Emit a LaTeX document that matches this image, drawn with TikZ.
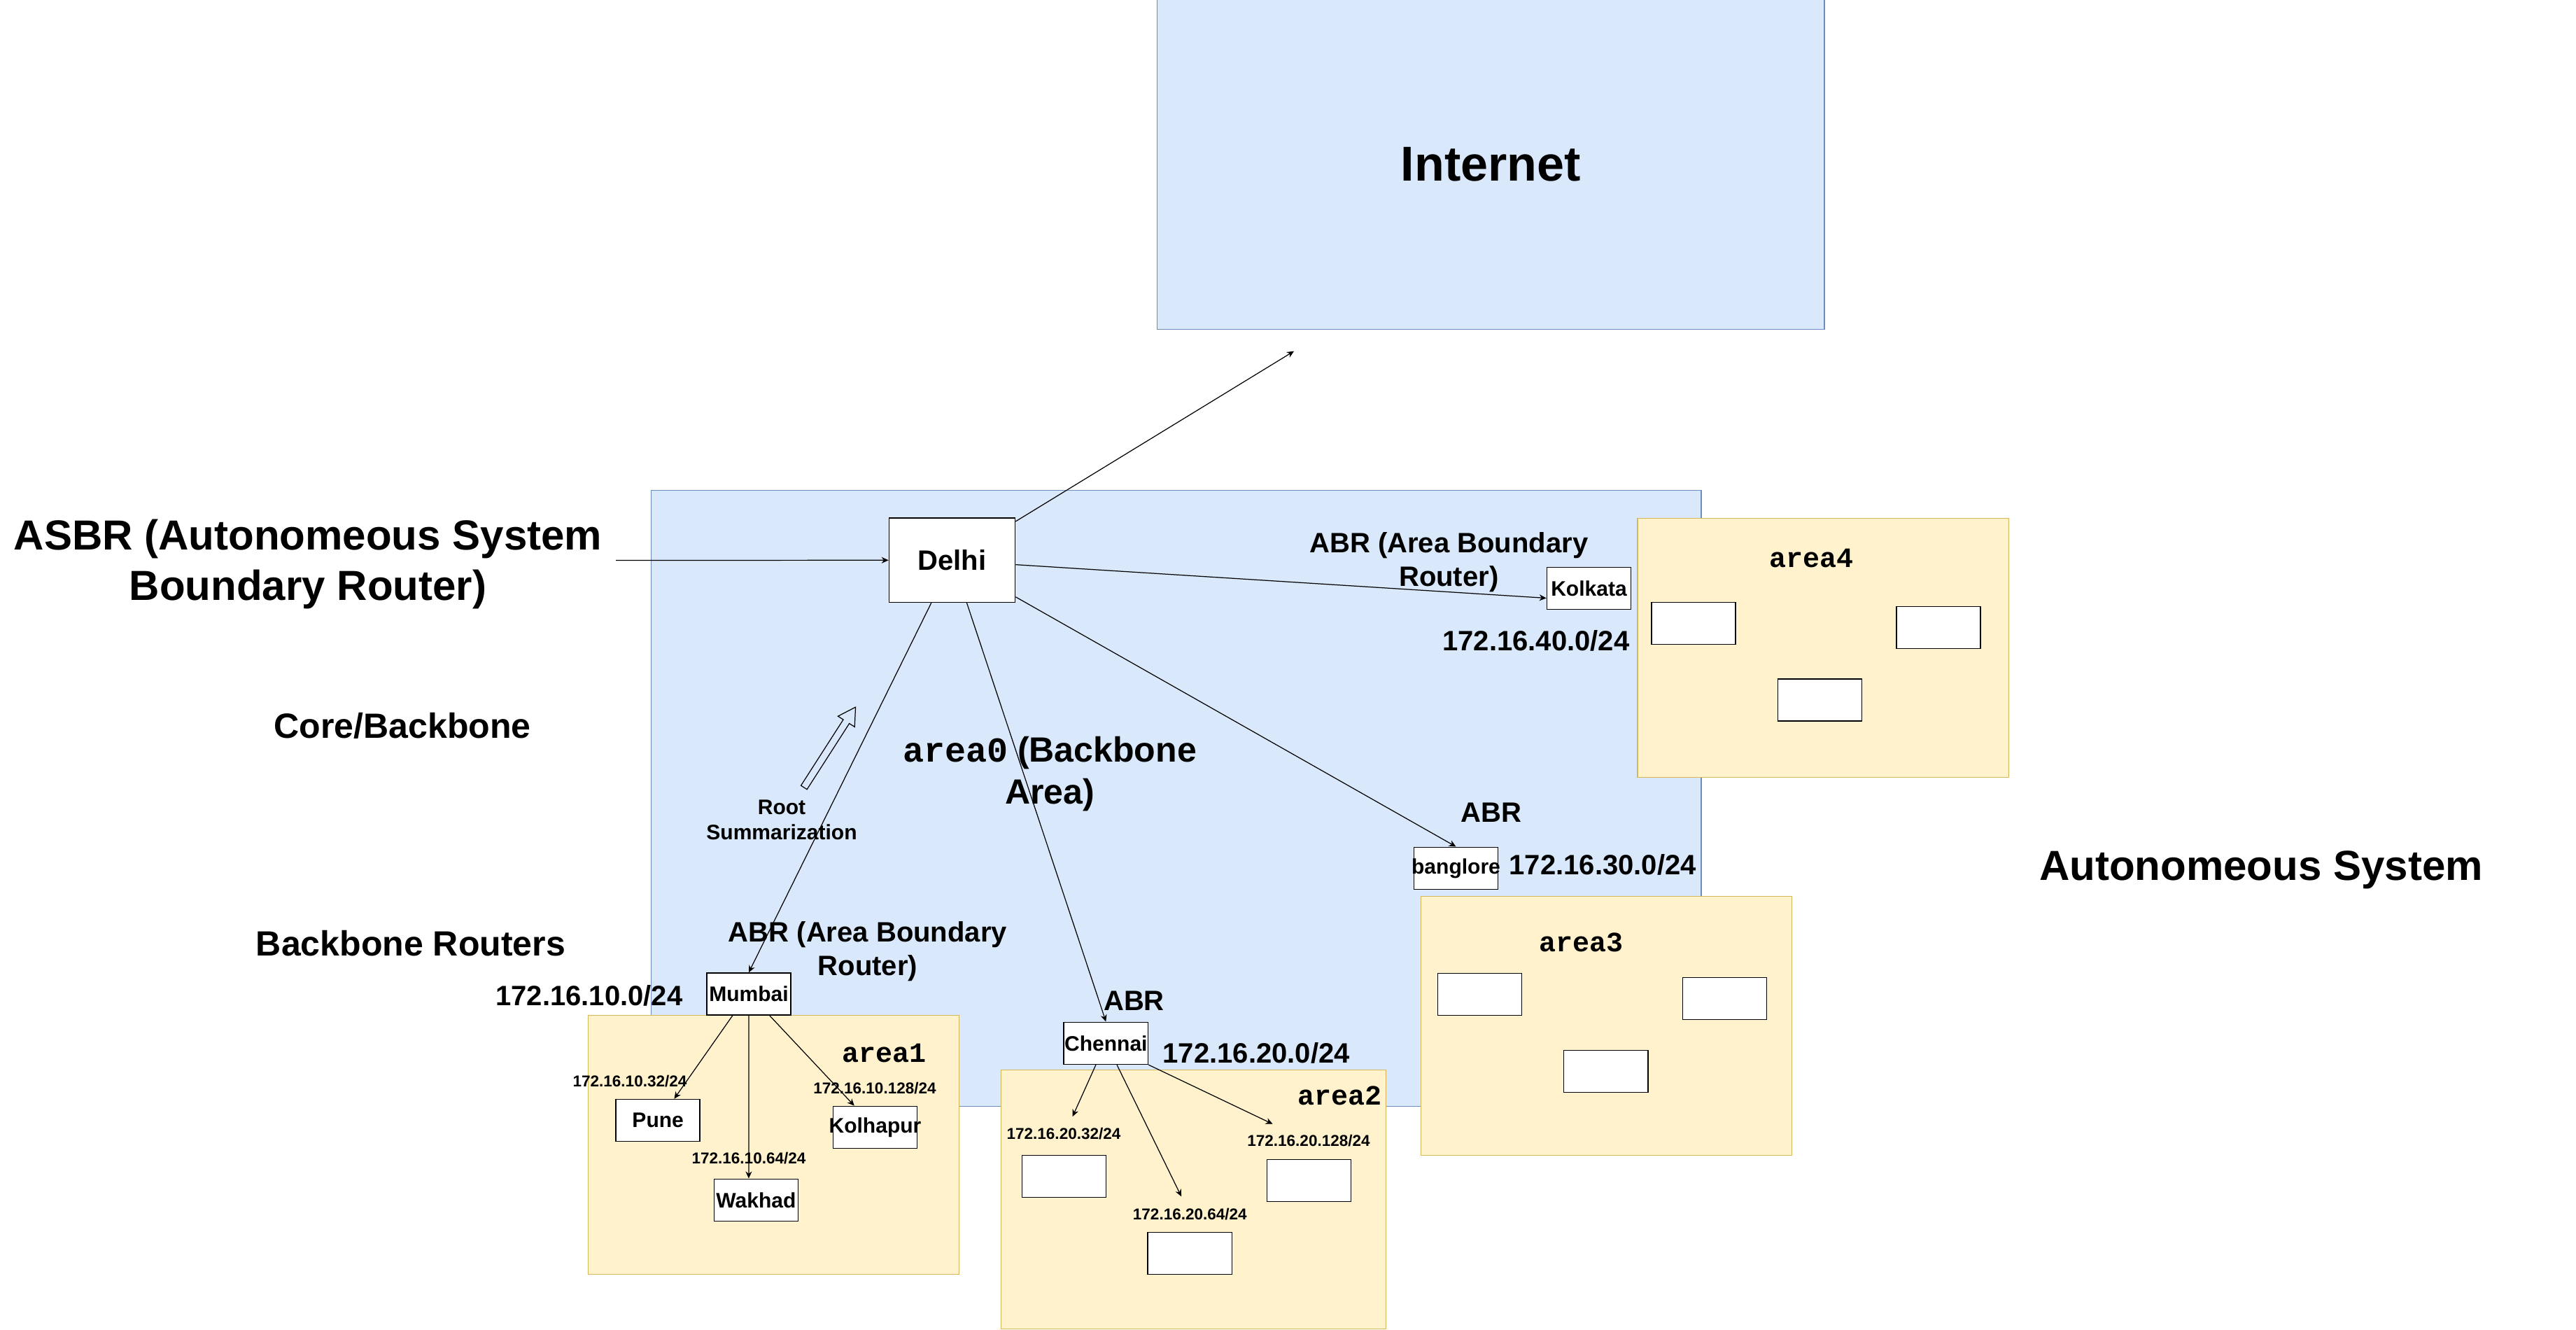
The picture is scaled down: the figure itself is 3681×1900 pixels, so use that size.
\documentclass[tikz,border=0pt]{standalone}
\usepackage{fontspec}
\setmainfont{Liberation Sans}
\setmonofont{Liberation Mono}
\definecolor{myblue}{HTML}{DAE8FC}
\definecolor{mybluedraw}{HTML}{6C8EBF}
\definecolor{myyellow}{HTML}{FFF2CC}
\definecolor{myyellowdraw}{HTML}{D6B656}
\usetikzlibrary{positioning, arrows.meta, shapes.arrows}
\newcommand{\fnt}[2]{\bfseries\fontsize{#1}{#2}\selectfont}
\newcommand{\rname}[1]{\makebox[0pt]{#1}}
\tikzset{
    zone/.style={
           rectangle,
           draw=mybluedraw, fill=myblue,
           line width=0.35pt,
           inner sep=0pt,
           },
    area/.style={
           rectangle,
           draw=myyellowdraw, fill=myyellow,
           line width=0.35pt,
           minimum width=5.3cm, minimum height=3.7cm,
           inner sep=0pt,
           },
    router/.style={
           rectangle,
           draw=black, fill=white,
           line width=0.45pt,
           minimum width=1.2cm, minimum height=0.6cm,
           inner sep=0pt,
           font=\fnt{8.54}{10.24},
           },
    host/.style={router},
    subnet/.style={inner sep=0pt, font=\fnt{6.40}{7.68}},
    note/.style={inner sep=0pt, align=center, font=\fnt{8.54}{10.24}},
    tag/.style={inner sep=0pt, align=center, font=\fnt{11.38}{13.66}},
    heading/.style={inner sep=0pt, align=center, font=\fnt{14.23}{17.07}},
    banner/.style={inner sep=0pt, align=center, font=\fnt{17.07}{20.49}},
    areaname/.style={inner sep=0pt, font=\ttfamily\fnt{11.38}{13.66}},
}

\begin{document}
\begin{tikzpicture}[->, >={Stealth[length=1mm, width=0.9mm]}, x=0.01cm, y=-0.01cm, line width=0.35pt]
      \useasboundingbox (0,0) rectangle (3681,1900);
      \node[zone, minimum width=14.995cm, minimum height=8.8cm]                        (area0) at (1680.9, 1140.4) {};
      \node[zone, minimum width=9.527cm, minimum height=4.702cm, font=\fnt{19.92}{23.9}] (inet)  at (2130.4,  235.1) {Internet};
      \node[area]                        (area1) at (1105.5, 1635.4) {};
      \node[area, minimum width=5.5cm]   (area2) at (1705.3, 1713.6) {};
      \node[area]                        (area3) at (2295.7, 1465.3) {};
      \node[area]                        (area4) at (2605.2,  925.3) {};
      \node[router, minimum width=1.8cm, minimum height=1.2cm, font=\fnt{11.38}{13.66}] (delhi) at (1360.5, 800.3) {\rname{Delhi}};
      \node[router]                      (mumbai)   at (1070.0, 1420.0) {\rname{Mumbai}};
      \node[router]                      (chennai)  at (1580.3, 1490.3) {\rname{Chennai}};
      \node[router]                      (kolkata)  at (2270.5,  840.4) {\rname{Kolkata}};
      \node[router]                      (banglore) at (2080.5, 1240.3) {\rname{banglore}};
      \node[router]                      (pune)     at ( 940.2, 1600.5) {\rname{Pune}};
      \node[router]                      (wakhad)   at (1080.5, 1714.3) {\rname{Wakhad}};
      \node[router]                      (kolhapur) at (1250.5, 1610.4) {\rname{Kolhapur}};
      \node[host]                        (hostA) at (1520.4, 1680.3) {};
      \node[host]                        (hostB) at (1700.3, 1790.3) {};
      \node[host]                        (hostC) at (1870.4, 1686.3) {};
      \node[host]                        (hostD) at (2114.6, 1420.4) {};
      \node[host]                        (hostE) at (2464.6, 1426.5) {};
      \node[host]                        (hostF) at (2294.7, 1530.6) {};
      \node[host]                        (hostG) at (2420.0,  890.6) {};
      \node[host]                        (hostH) at (2770.0,  896.4) {};
      \node[host]                        (hostI) at (2600.6, 1000.1) {};
      \node[areaname]                    (name1) at (1263.8, 1504.3) {area1};
      \node[areaname]                    (name2) at (1914.3, 1565.7) {area2};
      \node[areaname]                    (name3) at (2259.3, 1346.7) {area3};
      \node[areaname]                    (name4) at (2588.7,  797.1) {area4};
      \node[banner]                      (asbr)  at ( 440.0,  806.0) {ASBR (Autonomeous System\\Boundary Router)};
      \node[banner]                      (as)    at (3231.0, 1243.0) {Autonomeous System};
      \node[heading]                     (core)  at ( 575.3, 1036.7) {Core/Backbone};
      \node[heading]                     (bbr)   at ( 587.0, 1348.0) {Backbone Routers};
      \node[heading]                     (zero)  at (1500.0, 1106.0) {\texttt{area0} (Backbone\\Area)};
      \node[note]                        (root)  at (1117.0, 1171.0) {Root\\Summarization};
      \node[tag, anchor=east]            (net10) at ( 976.0, 1422.0) {172.16.10.0/24};
      \node[tag]                         (abr1)  at (1240.0, 1359.5) {ABR (Area Boundary\\Router)};
      \node[tag]                         (abr2)  at (1620.5, 1430.0) {ABR};
      \node[tag]                         (net20) at (1795.2, 1504.0) {172.16.20.0/24};
      \node[tag]                         (abr3)  at (2130.6, 1160.6) {ABR};
      \node[tag]                         (net30) at (2290.2, 1235.7) {172.16.30.0/24};
      \node[tag]                         (abr4)  at (2070.3,  803.0) {ABR (Area Boundary\\Router)};
      \node[tag]                         (net40) at (2194.8,  915.2) {172.16.40.0/24};
      \node[subnet]                      (sub1)  at ( 900.0, 1544.7) {172.16.10.32/24};
      \node[subnet]                      (sub2)  at (1070.0, 1654.5) {172.16.10.64/24};
      \node[subnet]                      (sub3)  at (1250.0, 1554.5) {172.16.10.128/24};
      \node[subnet]                      (sub4)  at (1520.0, 1620.0) {172.16.20.32/24};
      \node[subnet]                      (sub5)  at (1700.3, 1734.3) {172.16.20.64/24};
      \node[subnet]                      (sub6)  at (1870.0, 1630.0) {172.16.20.128/24};
      \node[single arrow, draw=black, line width=0.35pt, minimum height=1.363cm, inner sep=0.045cm,
            single arrow head extend=0.09cm, single arrow tip angle=60, rotate=57.3] (rootsum) at (1183.3, 1071.3) {};
      \coordinate (asbrin)  at ( 880.0,  800.5);
      \coordinate (inetend) at (1849.0,  501.7);
      \coordinate (c1end)   at (1532.7, 1595.0);
      \coordinate (c2end)   at (1688.1, 1709.3);
      \coordinate (c3end)   at (1818.6, 1605.7);
      \draw (asbrin)             -- (delhi.west);
      \draw (delhi)              -- (inetend);
      \draw (delhi.244)          -- (mumbai.north);
      \draw (delhi.289)          -- (chennai.north);
      \draw (delhi.356)          -- (kolkata.193);
      \draw (delhi.330)          -- (banglore.north);
      \draw (mumbai.233)         -- (pune.53);
      \draw (mumbai.south)       -- (wakhad.109);
      \draw (mumbai.314)         -- (kolhapur.134);
      \draw (chennai.245)        -- (c1end);
      \draw (chennai.297)        -- (c2end);
      \draw (chennai.south east) -- (c3end);
    \end{tikzpicture}
\end{document}
